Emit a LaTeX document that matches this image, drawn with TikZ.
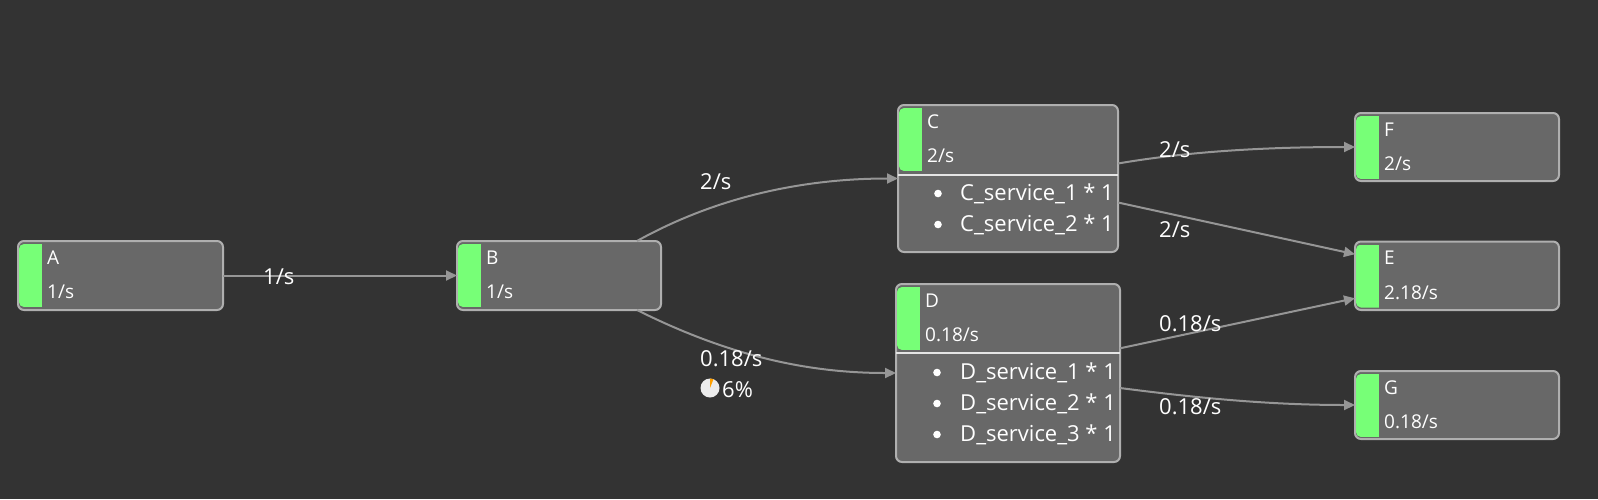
\documentclass[tikz,border=0pt]{standalone}
\usepackage{fontspec}
\setmainfont{Open Sans}
\usetikzlibrary{arrows.meta, calc}

\definecolor{canvasbg}{RGB}{51, 51, 51}
\definecolor{boxfill}{RGB}{104, 104, 104}
\definecolor{boxline}{RGB}{175, 175, 175}
\definecolor{rategreen}{RGB}{119, 255, 119}
\definecolor{edgegray}{RGB}{150, 150, 150}
\definecolor{piegray}{RGB}{236, 236, 236}
\definecolor{pieorange}{RGB}{255, 160, 0}

% box with green bar, name and rate
\newcommand{\servicenode}[6]{%
  \node[nodebox, minimum width=#3, minimum height=#4] (#1) at #2 {};
  \begin{scope}
    \clip[rounded corners=5pt] ($(#1.north west)+(1,3)$) rectangle ++(40,63);
    \fill[rategreen] ($(#1.north west)+(1,3)$) rectangle ++(23,63);
  \end{scope}
  \node[nodetext] (#1-name) at ($(#1.north west)+(29,23)$) {#5};
  \node[nodetext] (#1-rate) at ($(#1.north west)+(29,57.5)$) {#6};
}

\begin{document}
\begin{tikzpicture}[x=1pt, y=-1pt,
  nodebox/.style={draw=boxline, fill=boxfill, line width=2pt, rounded corners=6pt, anchor=north west, inner sep=0pt, outer sep=0pt},
  nodetext/.style={anchor=base west, inner sep=0pt, text=white, font=\fontsize{19}{23}\selectfont},
  svctext/.style={anchor=base west, inner sep=0pt, text=white, font=\fontsize{22}{26}\selectfont},
  ratelabel/.style={anchor=base west, inner sep=0pt, text=white, font=\fontsize{22}{26}\selectfont},
  flowedge/.style={draw=edgegray, line width=2pt, -{Triangle[length=11pt, width=10pt]}},
  sepline/.style={draw=white!90!black, line width=2pt}]

  \fill[canvasbg] (0,0) rectangle (1598,499);

  % Nodes
  \servicenode{A}{(18,241)}{205pt}{69pt}{A}{1/s}
  \servicenode{B}{(457,241)}{204pt}{69pt}{B}{1/s}
  \servicenode{C}{(898,105)}{220pt}{147pt}{C}{2/s}
  \servicenode{D}{(896,284)}{224pt}{178pt}{D}{0.18/s}
  \servicenode{F}{(1355,113)}{204pt}{68pt}{F}{2/s}
  \servicenode{E}{(1355,241.5)}{204pt}{68.5pt}{E}{2.18/s}
  \servicenode{G}{(1355,371)}{204pt}{68pt}{G}{0.18/s}

  % Service lists
  \draw[sepline] ($(C.north west)+(0,70)$) -- ($(C.north east)+(0,70)$);
  \draw[sepline] ($(D.north west)+(0,69)$) -- ($(D.north east)+(0,69)$);
  \foreach \svc [count=\i from 0] in {C\_service\_1 * 1, C\_service\_2 * 1} {
    \fill[white] ($(C.north west)+(40,88.5+31*\i)$) circle[radius=3.8pt];
    \node[svctext] (C-svc-\i) at ($(C.north west)+(62,95.5+31*\i)$) {\svc};
  }
  \foreach \svc [count=\i from 0] in {D\_service\_1 * 1, D\_service\_2 * 1, D\_service\_3 * 1} {
    \fill[white] ($(D.north west)+(41,88.5+31*\i)$) circle[radius=3.8pt];
    \node[svctext] (D-svc-\i) at ($(D.north west)+(64,95.5+31*\i)$) {\svc};
  }

  % Edges
  \draw[flowedge] (A.east) -- (B.west);
  \draw[flowedge] ($(B.north east)+(-24,0)$) .. controls +(90,-50) and +(-80,0) .. (C.west);
  \draw[flowedge] ($(B.south east)+(-24,0)$) .. controls +(90,45) and +(-90,0) .. (D.west);
  \draw[flowedge] ($(C.east)+(0,-15)$) .. controls +(70,-12) and +(-90,0) .. (F.west);
  \draw[flowedge] ($(C.east)+(0,24)$) -- ($(E.west)+(0,-21.5)$);
  \draw[flowedge] ($(D.east)+(0,-24.7)$) -- ($(E.west)+(0,22.5)$);
  \draw[flowedge] ($(D.east)+(0,15)$) .. controls +(70,9) and +(-90,0) .. (G.west);

  % Edge labels
  \node[ratelabel] (lab-AB) at (263,284) {1/s};
  \node[ratelabel] (lab-BC) at (700,189) {2/s};
  \node[ratelabel] (lab-BD) at (700,366) {0.18/s};
  \node[ratelabel] (lab-BD-pct) at (722,397) {6\%};
  \node[ratelabel] (lab-CF) at (1159,157) {2/s};
  \node[ratelabel] (lab-CE) at (1159,237.3) {2/s};
  \node[ratelabel] (lab-DE) at (1159,331.7) {0.18/s};
  \node[ratelabel] (lab-DG) at (1159,414) {0.18/s};

  % Share pie
  \coordinate (pie) at (710,388);
  \fill[piegray] (pie) circle[radius=9.5pt];
  \fill[pieorange] (pie) -- ++(90:9.5pt) arc[start angle=90, end angle=68.4, radius=9.5pt] -- cycle;
\end{tikzpicture}
\end{document}
